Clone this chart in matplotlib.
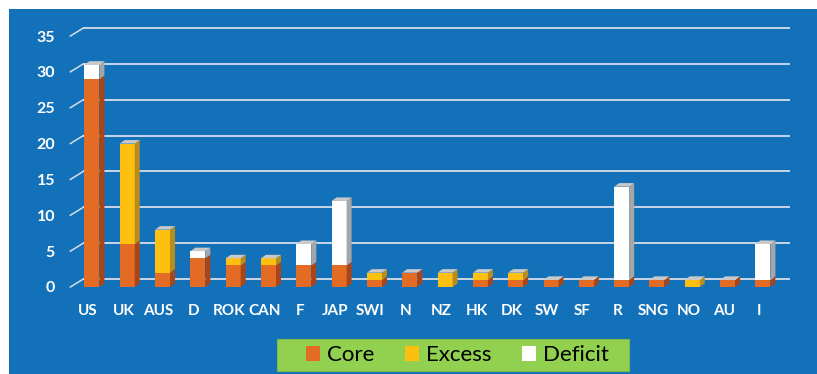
import matplotlib
matplotlib.use("Agg")
import matplotlib.pyplot as plt
from matplotlib.patches import Rectangle, Polygon
import numpy as np

categories = ["US", "UK", "AUS", "D", "ROK", "CAN", "F", "JAP", "SWI", "N",
              "NZ", "HK", "DK", "SW", "SF", "R", "SNG", "NO", "AU", "I"]
core    = [29, 6, 2, 4, 3, 3, 3, 3, 1, 2, 0, 1, 1, 1, 1, 1, 1, 0, 1, 1]
excess  = [0, 14, 6, 0, 1, 1, 0, 0, 1, 0, 2, 1, 1, 0, 0, 0, 0, 1, 0, 0]
deficit = [2, 0, 0, 1, 0, 0, 3, 9, 0, 0, 0, 0, 0, 0, 0, 13, 0, 0, 0, 5]
series_names = ["Core", "Excess", "Deficit"]
yticks = [0, 5, 10, 15, 20, 25, 30, 35]

W, H = 817, 374
DPI = 100
BLUE = "#1371BA"
front_cols = ["#E46B24", "#FDC010", "#FFFFFF"]
side_cols = ["#A8461A", "#B88D1C", "#A6A6A6"]
TOP = "#C9C9C9"
GRID = "#D6DEEA"

plt.rcParams['font.family'] = ['Lato', 'DejaVu Sans']

fig = plt.figure(figsize=(W / DPI, H / DPI), dpi=DPI)
fig.patch.set_facecolor("white")
fig.patches.append(Rectangle((9 / W, 0), 1, (H - 9) / H, transform=fig.transFigure,
                             facecolor=BLUE, edgecolor="none", zorder=-10))

# axes: front plane, pixel x 70.35 .. 776.7, y 36 .. 287 (from top)
n = len(categories)
x_left_px, x_right_px = 70.35, 776.7
y_top_px, y_bot_px = 36.0, 287.0
ax = fig.add_axes([x_left_px / W, (H - y_bot_px) / H,
                   (x_right_px - x_left_px) / W, (y_bot_px - y_top_px) / H])
ax.set_xlim(-0.5, n - 0.5)
ax.set_ylim(0, 35)
ax.patch.set_alpha(0)
for s in ax.spines.values():
    s.set_visible(False)

px_x = (n) / (x_right_px - x_left_px)      # data units per pixel in x
px_y = 35 / (y_bot_px - y_top_px)          # data units per pixel in y

# back wall gridlines + diagonal floor/wall edges
wall_dx, wall_dy = 13 * px_x, 8 * px_y
for v in yticks:
    ax.plot([-0.5 + wall_dx, n - 0.5 + wall_dx], [v + wall_dy, v + wall_dy],
            color=GRID, lw=1.3, zorder=1, clip_on=False, solid_capstyle="butt")
    ax.plot([-0.5, -0.5 + wall_dx], [v, v + wall_dy], color=GRID, lw=1.1,
            zorder=1, clip_on=False)

# bars with depth
bw = 15 * px_x
shift = 0.11
ddx, ddy = 5 * px_x, 3.5 * px_y
x = np.arange(n) + shift
series = [core, excess, deficit]
bottom = np.zeros(n)
for k, vals in enumerate(series):
    vals = np.array(vals, dtype=float)
    ax.bar(x, vals, bw, bottom=bottom, color=front_cols[k], edgecolor="none",
           zorder=3, label=series_names[k])
    for i in range(n):
        if vals[i] <= 0:
            continue
        x1 = x[i] + bw / 2
        y0, y1 = bottom[i], bottom[i] + vals[i]
        ax.add_patch(Polygon([(x1, y0), (x1 + ddx, y0 + ddy), (x1 + ddx, y1 + ddy), (x1, y1)],
                             closed=True, facecolor=side_cols[k], edgecolor="none",
                             zorder=3, clip_on=False))
    bottom = bottom + vals

totals = bottom
for i in range(n):
    x0 = x[i] - bw / 2
    x1 = x[i] + bw / 2
    t = totals[i]
    ax.add_patch(Polygon([(x0, t), (x1, t), (x1 + ddx, t + ddy), (x0 + ddx, t + ddy)],
                         closed=True, facecolor=TOP, edgecolor="none", zorder=3,
                         clip_on=False))

ax.set_xticks(np.arange(n))
ax.set_xticklabels(categories, fontsize=11, fontweight="bold", color="white")
ax.set_yticks(yticks)
ax.set_yticklabels([str(v) for v in yticks], fontsize=11.5, fontweight="bold", color="white")
ax.tick_params(axis="both", length=0)
ax.tick_params(axis="y", pad=11)
ax.tick_params(axis="x", pad=12)

# legend
fig.patches.append(Rectangle((277 / W, (H - 371) / H), (629 - 277) / W, 32 / H,
                             transform=fig.transFigure, facecolor="#92D050",
                             edgecolor="#7FB843", lw=0.8, zorder=-5))
handles = [Rectangle((0, 0), 1, 1, facecolor=c, edgecolor="none") for c in front_cols]
leg = fig.legend(handles, series_names, loc="center", bbox_to_anchor=(457.5 / W, (H - 355) / H),
                 ncol=3, frameon=False, fontsize=16, handlelength=0.64, handleheight=0.64,
                 handletextpad=0.32, columnspacing=1.36, borderpad=0.0)
for t in leg.get_texts():
    t.set_color("black")

fig.savefig("out.png", dpi=DPI, facecolor=fig.get_facecolor())
